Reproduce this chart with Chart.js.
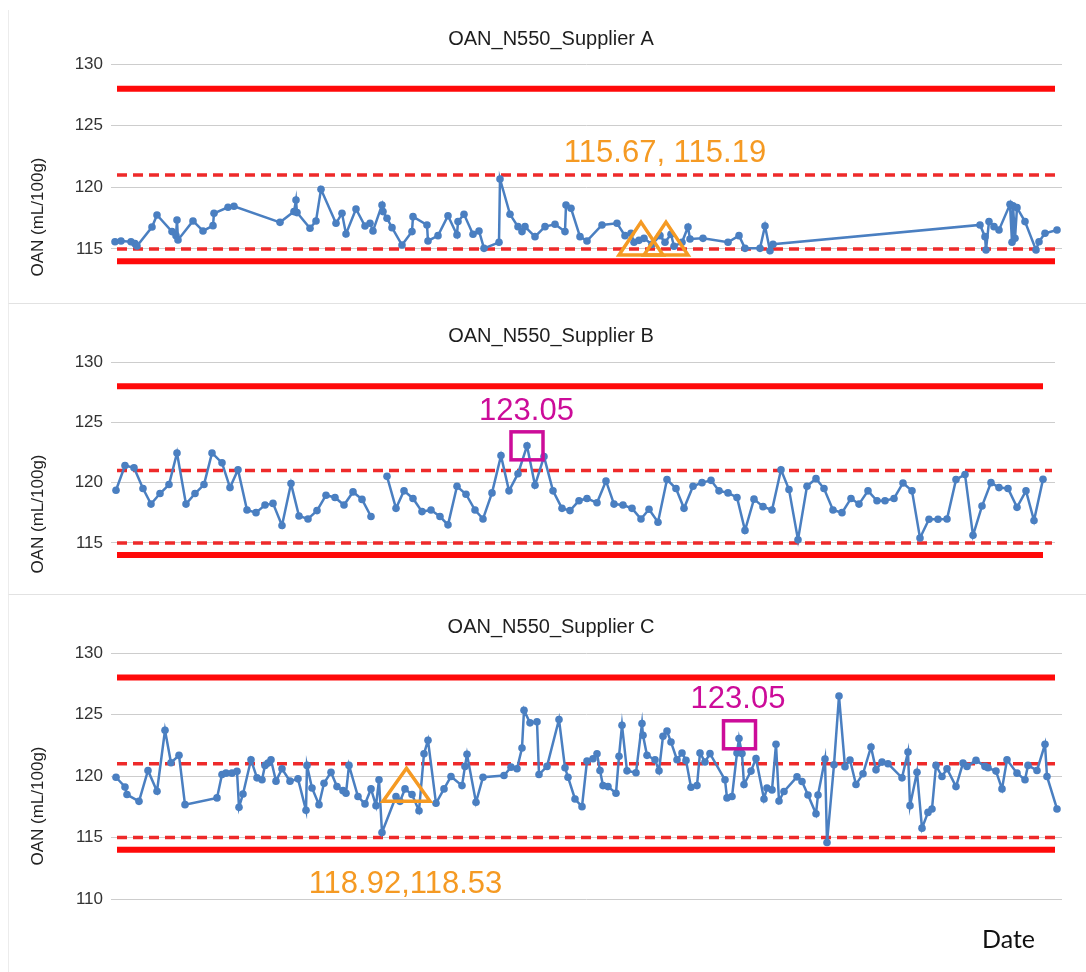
<!DOCTYPE html>
<html>
<head>
<meta charset="utf-8">
<title>OAN N550 control charts</title>
<script src="https://cdn.jsdelivr.net/npm/chart.js@4.4.1/dist/chart.umd.min.js"></script>
<style>
  html, body { margin:0; padding:0; background:#ffffff; }
  body { position:relative; width:1086px; height:972px; overflow:hidden; }
  .card { position:absolute; left:8px; right:0; box-sizing:border-box; border-left:1px solid #ececec; }
  .sep { border-bottom:1px solid #e2e2e2; }
  .box { position:absolute; left:0; width:1086px; }
  #dateLbl { position:absolute; left:982px; top:924px; font:25px Lato, 'Liberation Sans', sans-serif; color:#111; line-height:28px; }
</style>
</head>
<body>
<div class="card sep" style="top:10px;height:294px"></div>
<div class="card sep" style="top:304px;height:291px"></div>
<div class="card" style="top:595px;height:377px"></div>
<div class="box" style="top:0;height:303px"><canvas id="chartA"></canvas></div>
<div class="box" style="top:303px;height:292px"><canvas id="chartB"></canvas></div>
<div class="box" style="top:595px;height:377px"><canvas id="chartC"></canvas></div>
<div id="dateLbl">Date</div>
<script>
// ---------------- data (day index, OAN value mL/100g) ----------------
const titles = ['OAN_N550_Supplier A', 'OAN_N550_Supplier B', 'OAN_N550_Supplier C'];
const yAxisTitle = 'OAN (mL/100g)';
const yTicks = [110, 115, 120, 125, 130];
const controlLimits = [114, 128];   // solid red
const warningLimits = [115, 121];   // dashed red

const daysA = [-1,5,15,19,21,36,41,56,60,61,62,77,87,97,98,112,118,164,178,180,181,194,200,205,220,226,230,240,249,254,257,266,267,271,276,286,296,297,311,312,322,332,341,342,348,357,363,368,383,384,394,402,406,409,419,429,439,449,450,455,464,471,486,501,509,515,518,523,528,536,544,549,555,558,566,572,574,587,612,623,629,644,649,654,657,864,869,870,873,878,883,894,896,897,899,901,909,920,923,929,941];
const oanA = [115.59,115.65,115.59,115.43,115.24,116.78,117.76,116.41,116.08,117.35,115.73,117.27,116.46,116.89,117.89,118.38,118.46,117.16,118.03,118.97,117.95,116.68,117.27,119.84,117.08,117.89,116.22,118.24,116.86,117.08,116.46,118.57,118.03,117.49,116.73,115.32,116.41,117.62,116.95,115.65,116.08,117.70,116.14,117.22,117.81,116.19,116.46,115.05,115.54,120.68,117.81,116.81,116.41,116.81,116.00,116.81,117.00,116.41,118.57,118.30,116.00,115.65,116.95,117.08,116.08,116.27,115.54,115.70,115.86,115.38,116.08,115.54,116.19,115.22,115.54,116.78,115.81,115.86,115.54,116.08,115.05,115.05,116.86,114.85,115.38,116.95,116.00,114.92,117.22,116.81,116.54,118.62,115.54,118.51,115.86,118.35,117.22,114.92,115.59,116.27,116.54];

const daysB = [0,9,18,27,35,44,53,61,70,79,88,96,106,114,122,131,140,149,157,166,175,183,192,201,210,219,228,237,246,255,262,271,280,288,297,306,315,324,332,341,350,359,367,376,385,393,402,411,419,428,437,446,454,463,471,481,490,498,507,516,525,533,542,551,560,568,577,586,595,603,612,621,629,638,647,656,665,673,682,691,700,708,717,726,735,743,752,761,769,778,787,796,804,813,822,831,840,849,857,866,875,883,892,901,910,918,927];
const oanB = [119.37,121.42,121.23,119.51,118.22,119.10,119.84,122.46,118.22,119.10,119.84,122.46,121.64,119.59,121.07,117.73,117.51,118.14,118.28,116.45,119.92,117.24,116.99,117.68,118.96,118.77,118.14,119.23,118.61,117.19,null,120.52,117.87,119.32,118.69,117.60,117.73,117.19,116.50,119.70,119.04,117.73,116.99,119.15,122.24,119.32,120.74,123.05,119.78,122.16,119.32,117.87,117.68,118.50,118.69,118.33,120.14,118.22,118.14,117.87,116.99,117.79,116.72,120.25,119.51,117.87,119.70,120.00,120.19,119.32,119.15,118.77,116.04,118.63,118.01,117.73,121.07,119.43,115.27,119.70,120.33,119.51,117.73,117.51,118.69,118.22,119.32,118.50,118.50,118.69,119.97,119.32,115.41,116.97,116.97,116.99,120.25,120.68,115.63,118.06,120.00,119.59,119.51,117.95,119.32,116.86,120.27];

const daysC = [0,9,11,23,32,41,49,55,63,69,101,106,110,116,121,123,127,135,141,146,149,152,155,160,166,174,182,190,191,196,203,208,215,221,227,230,233,242,249,255,260,263,266,280,284,289,296,303,308,312,320,328,335,346,349,351,360,367,388,395,401,406,408,414,421,423,431,443,449,452,459,466,471,477,481,484,487,492,500,503,506,511,520,526,527,531,539,543,547,551,555,561,566,570,575,581,584,589,594,609,611,616,621,623,626,628,635,640,648,651,656,660,663,668,681,686,692,700,702,709,711,718,723,729,734,740,747,755,760,766,772,786,792,794,801,806,812,816,820,826,831,840,847,851,860,869,872,880,886,891,901,909,912,921,929,931,941];
const oanC = [119.90,119.11,118.49,117.94,120.45,118.76,123.72,121.08,121.68,117.67,118.22,120.12,120.23,120.23,120.39,117.45,118.54,121.32,119.85,119.69,120.86,121.05,121.32,119.58,120.59,119.58,119.77,117.21,120.86,119.03,117.67,119.41,120.31,119.14,118.81,118.60,120.86,118.33,117.73,118.95,117.59,119.69,115.41,118.33,117.94,118.95,118.49,117.18,121.81,122.90,117.78,118.95,119.96,119.22,120.78,121.76,117.86,119.90,120.04,120.72,120.59,122.28,125.35,124.32,124.41,120.12,120.78,124.59,120.67,119.90,118.13,117.51,121.22,121.40,121.81,120.45,119.22,119.14,118.60,121.60,124.13,120.42,120.26,124.26,123.31,121.68,121.32,120.42,123.23,123.66,122.76,121.32,121.87,121.27,119.09,119.22,121.87,121.14,121.82,119.69,118.22,118.33,121.87,123.05,121.82,119.31,120.40,121.41,118.13,119.03,118.87,122.58,117.97,118.74,119.93,119.55,118.46,116.93,118.46,121.38,114.59,120.91,126.50,120.75,121.30,119.31,120.18,122.36,120.50,121.13,121.00,119.85,121.95,117.59,120.31,115.76,117.04,117.32,120.86,119.96,120.59,119.14,121.05,120.78,121.27,120.78,120.67,120.40,118.95,121.32,120.23,119.69,120.86,120.45,122.58,119.96,117.32];

// limit line spans (day range) per panel: [solidStart, solidEnd, dashStart, dashEnd]
const spanA = [1, 939, 1, 939];
const spanB = [1, 927, 1, 936];
const spanC = [1, 939, 1, 939];

// annotation anchors (day, value) and labels
const trianglesA = [[525, 115.84], [550, 115.84]];
const trianglesC = [[290.5, 119.28]];
const squaresB = [[411, 123.05]];
const squaresC = [[623.5, 123.35]];
const notesA = [['115.67, 115.19', 549, 122.92]];
const notesB = [['123.05', 410.5, 126.15]];
const notesC = [['123.05', 622, 126.44], ['118.92,118.53', 289.5, 111.36]];

// ---------------- styling ----------------
const FONT = "'Liberation Sans', Arial, Helvetica, sans-serif";
const BLUE = '#4a7fc1';
const RED = '#ff0a0a';
const DRED = '#ee2a2a';
const ORANGE = '#f59a23';
const MAGENTA = '#cc0c99';

function pts(days, vals) { return days.map((d, i) => ({ x: d, y: vals[i] })); }
function hline(v, a, b) { return [{ x: a, y: v }, { x: b, y: v }]; }

function makePlugin(cfg) {
  return {
    id: 'panelText_' + cfg.id,
    afterDatasetsDraw(chart) {
      const ctx = chart.ctx, xs = chart.scales.x, ys = chart.scales.y;
      ctx.save();
      ctx.lineJoin = 'miter';
      cfg.tri.forEach(([d, v]) => {
        const px = xs.getPixelForValue(d), py = ys.getPixelForValue(v);
        const w = cfg.triW, h = 33;
        ctx.strokeStyle = ORANGE; ctx.lineWidth = 3.5;
        ctx.beginPath();
        ctx.moveTo(px, py - h / 2);
        ctx.lineTo(px + w / 2, py + h / 2);
        ctx.lineTo(px - w / 2, py + h / 2);
        ctx.closePath();
        ctx.stroke();
      });
      cfg.sq.forEach(([d, v]) => {
        const px = xs.getPixelForValue(d), py = ys.getPixelForValue(v);
        const w = 32, h = 28;
        ctx.strokeStyle = MAGENTA; ctx.lineWidth = 3.5;
        ctx.strokeRect(px - w / 2, py - h / 2, w, h);
      });
      cfg.notes.forEach(([t, d, v]) => {
        const px = xs.getPixelForValue(d), py = ys.getPixelForValue(v);
        ctx.font = '31px ' + FONT;
        ctx.fillStyle = t.indexOf(',') >= 0 ? ORANGE : MAGENTA;
        ctx.textAlign = 'center';
        ctx.textBaseline = 'alphabetic';
        ctx.fillText(t, px, py + 0.358 * 31);
      });
      ctx.restore();
    },
    afterDraw(chart) {
      const ctx = chart.ctx;
      ctx.save();
      ctx.font = '20px ' + FONT;
      ctx.fillStyle = '#1e1e1e';
      ctx.textAlign = 'center';
      ctx.textBaseline = 'alphabetic';
      ctx.fillText(cfg.title, 551, cfg.titleBase);
      ctx.translate(38, cfg.yTitleMid);
      ctx.rotate(-Math.PI / 2);
      ctx.font = '17px ' + FONT;
      ctx.fillStyle = '#222';
      ctx.textBaseline = 'middle';
      ctx.fillText(yAxisTitle, 0, 0);
      ctx.restore();
    }
  };
}

function makeChart(canvasId, cfg) {
  const [s0, s1, d0, d1] = cfg.span;
  const datasets = [
    { data: pts(cfg.days, cfg.vals), borderColor: BLUE, backgroundColor: BLUE, borderWidth: 2.5,
      pointRadius: 3.8, pointHoverRadius: 3.8, pointBorderWidth: 0, pointBackgroundColor: BLUE, tension: 0, spanGaps: false },
    { data: hline(warningLimits[1], d0, d1), borderColor: DRED, borderWidth: 3.5, borderDash: [10, 6], pointRadius: 0, borderCapStyle: 'butt' },
    { data: hline(warningLimits[0], d0, d1), borderColor: DRED, borderWidth: 3.5, borderDash: [10, 6], pointRadius: 0, borderCapStyle: 'butt' },
    { data: hline(controlLimits[1], s0, s1), borderColor: RED, borderWidth: 6, pointRadius: 0, borderCapStyle: 'butt' },
    { data: hline(controlLimits[0], s0, s1), borderColor: RED, borderWidth: 6, pointRadius: 0, borderCapStyle: 'butt' }
  ];
  return new Chart(document.getElementById(canvasId), {
    type: 'line',
    data: { datasets },
    options: {
      responsive: true,
      maintainAspectRatio: false,
      animation: false,
      events: [],
      layout: { padding: { left: 0, right: cfg.padR, top: cfg.padT, bottom: cfg.padB } },
      plugins: { legend: { display: false }, tooltip: { enabled: false }, title: { display: false } },
      scales: {
        x: { type: 'linear', min: -5, max: cfg.xMax, display: false },
        y: {
          type: 'linear', min: cfg.yMin, max: 130,
          afterBuildTicks: (s) => { s.ticks = yTicks.filter(v => v >= cfg.yMin).map(v => ({ value: v })); },
          afterFit: (s) => { s.width = 111; s.paddingTop = 0; s.paddingBottom = 0; },
          grid: { color: '#cdcdcd', lineWidth: 1, drawTicks: false },
          border: { display: false },
          ticks: { padding: 8, color: '#333', font: { size: 17, family: FONT } }
        }
      }
    },
    plugins: [makePlugin(cfg)]
  });
}

makeChart('chartA', { id: 'A', title: titles[0], days: daysA, vals: oanA, span: spanA, yMin: 111, xMax: 946,
  padT: 64, padB: 4.7, padR: 24, titleBase: 45, yTitleMid: 217,
  tri: trianglesA, triW: 44, sq: [], notes: notesA });
makeChart('chartB', { id: 'B', title: titles[1], days: daysB, vals: oanB, span: spanB, yMin: 111, xMax: 939,
  padT: 59, padB: 1.8, padR: 31, titleBase: 38.7, yTitleMid: 211,
  tri: [], triW: 44, sq: squaresB, notes: notesB });
makeChart('chartC', { id: 'C', title: titles[2], days: daysC, vals: oanC, span: spanC, yMin: 110, xMax: 946,
  padT: 58, padB: 73, padR: 24, titleBase: 38, yTitleMid: 211,
  tri: trianglesC, triW: 47, sq: squaresC, notes: notesC });
</script>
</body>
</html>
